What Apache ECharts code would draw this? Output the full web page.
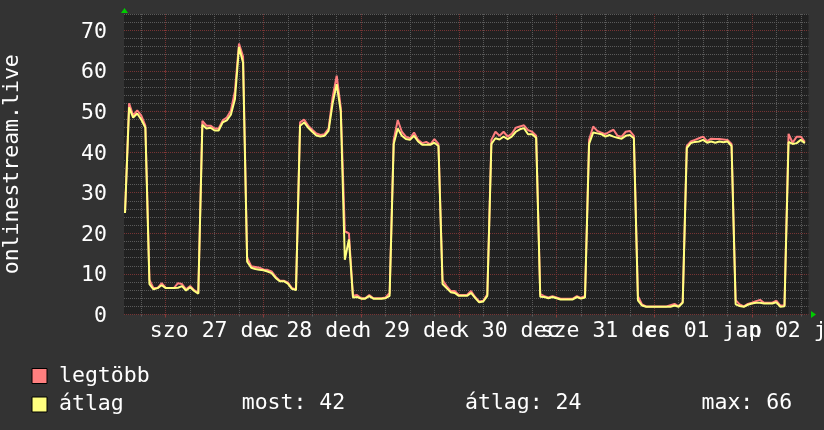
<!DOCTYPE html>
<html><head><meta charset="utf-8">
<script src="https://cdn.jsdelivr.net/npm/echarts@6/dist/echarts.min.js"></script>
<style>html,body{margin:0;padding:0;background:#333333;}#c{width:824px;height:430px;}</style>
</head><body><div id="c"></div>
<script>
// time base: hours relative to 27 Dec 00:00
const hours = [];
for (let h = -10; h <= 157; h++) hours.push(h);

// "legtöbb" (max) values, hourly
const maxValues = [
  25, 52, 49, 50.3, 49, 46.5, 8.5, 6.5, 6.5, 7.7,
  6.6, 6.5, 6.5, 7.7, 7.5, 6.2, 7.0, 6.0, 5.3, 47.7, 46.5, 46.5, 45.8, 45.8, 47.8, 48.5, 50.2, 55, 66.7, 63.5, 14, 11.9, 11.7, 11.5,
  11.1, 11.0, 10.6, 9.3, 8.4, 8.3, 7.9, 6.5, 6.2, 47.3, 48, 46.5, 45.5, 44.6, 44.2, 44.4, 45.8, 53.5, 58.8, 51, 20.5, 20, 4.6, 4.8,
  4.0, 4.0, 4.8, 4.0, 4.0, 4.0, 4.2, 5.3, 43, 47.9, 45, 43.8, 43.4, 44.8, 43, 42.2, 42.5, 41.9, 43.2, 42, 8.5, 7, 5.8, 5.8,
  4.8, 4.8, 4.8, 5.8, 4.3, 3.2, 3.4, 5.0, 43, 45, 44, 45, 43.8, 44.5, 46, 46.3, 46.6, 45.4, 45, 44, 5, 4.5, 4.2, 4.5,
  4.2, 3.9, 3.9, 3.9, 3.9, 4.5, 4.1, 4.6, 43, 46.3, 45.2, 44.8, 44.4, 45, 45.5, 44, 43.8, 45, 45.2, 44, 4.5, 2.5, 2.0, 2.0,
  2.0, 2.0, 2.0, 2.0, 2.3, 2.6, 2.0, 3.1, 41.5, 42.6, 43, 43.4, 43.8, 42.7, 43.3, 43.2, 43.2, 43.1, 43, 42, 3.5, 2.5, 2.0, 2.6,
  2.9, 3.3, 3.6, 2.9, 2.9, 2.9, 3.4, 2.2, 2.2, 44.5, 42.3, 43.8, 43.8, 42.5
];

// "átlag" (average) values, hourly
const avgValues = [
  25, 51, 48.5, 49.5, 48, 46, 7.5, 6.2, 6.5, 7.2,
  6.5, 6.5, 6.5, 6.6, 7.0, 5.9, 6.7, 5.8, 5.1, 46.7, 45.8, 46, 45.3, 45.3, 47.3, 47.8, 49.2, 53, 65.9, 62, 13, 11.5, 11.2, 11,
  10.9, 10.6, 10.2, 9.0, 8.2, 8.2, 7.6, 6.3, 6.0, 46.5, 47.3, 46.0, 45, 44.1, 43.8, 44, 45.2, 52, 56.7, 50, 13.5, 18.5, 4.2, 4.3,
  3.9, 3.9, 4.5, 3.9, 3.9, 3.9, 4.0, 4.6, 42, 45.8, 44, 43.2, 43, 44, 42.6, 41.8, 41.8, 41.8, 42.3, 41.5, 7.5, 6.5, 5.5, 5.3,
  4.6, 4.6, 4.6, 5.3, 4.1, 3.0, 3.2, 4.6, 42, 43.4, 43.1, 43.8, 43.2, 43.8, 45, 45.6, 45.9, 44.4, 44.4, 43.5, 4.4, 4.3, 4.0, 4.3,
  4.0, 3.7, 3.7, 3.7, 3.7, 4.3, 3.9, 4.2, 42, 44.8, 44.6, 44.4, 43.8, 44.2, 43.8, 43.5, 43.3, 44.0, 44.2, 43.4, 3.5, 2.2, 1.9, 1.9,
  1.9, 1.9, 1.9, 1.9, 1.9, 2.2, 1.9, 2.9, 41, 42.2, 42.5, 42.6, 43.0, 42.3, 42.6, 42.3, 42.6, 42.4, 42.6, 41.5, 2.5, 2.1, 1.9, 2.4,
  2.7, 2.9, 2.9, 2.7, 2.7, 2.7, 3.0, 1.9, 2.0, 42.5, 42, 42.2, 43, 42.2
];

const seriesNames = ['legtöbb', 'átlag'];
const seriesColors = ['#ff7f7f', '#ffff7f'];
const dayLabels = ['szo 27 dec', 'v 28 dec', 'h 29 dec', 'k 30 dec', 'sze 31 dec', 'cs 01 jan', 'p 02 jan'];
const labelHours = [12, 36, 60, 84, 108, 132, 156];
const dayHours = [0, 24, 48, 72, 96, 120, 144];
const sixHours = [-6, 6, 12, 18, 30, 36, 42, 54, 60, 66, 78, 84, 90, 102, 108, 114, 126, 132, 138, 150, 156];
const yMajor = [0, 10, 20, 30, 40, 50, 60, 70];
const yMinor = [2, 4, 6, 8, 12, 14, 16, 18, 22, 24, 26, 28, 32, 34, 36, 38, 42, 44, 46, 48, 52, 54, 56, 58, 62, 64, 66, 68, 72, 74];
const statTexts = ['most: 42', 'átlag: 24', 'max: 66'];
const axisTitle = 'onlinestream.live';

const X_MIN = -10.25, X_MAX = 157.9, Y_MIN = 0, Y_MAX = 74;
const FONT = 'DejaVu Sans Mono';
const FS = 21.5;
const GRID_GRAY = '#5a5a5a';
const GRID_RED = '#763434';

const chart = echarts.init(document.getElementById('c'), null, {renderer: 'canvas', devicePixelRatio: 1});

function xAxisBase(extra) {
  return Object.assign({
    type: 'value', min: X_MIN, max: X_MAX, position: 'bottom',
    axisLine: {show: false}, axisTick: {show: false}, axisLabel: {show: false},
    splitLine: {show: false}
  }, extra);
}
function yAxisBase(extra) {
  return Object.assign({
    type: 'value', min: Y_MIN, max: Y_MAX, position: 'left',
    axisLine: {show: false}, axisTick: {show: false}, axisLabel: {show: false},
    splitLine: {show: false}
  }, extra);
}
// labels split over two axes (alternating) so they can overlap like the original
const evenIdx = labelHours.filter((_, i) => i % 2 === 0);
const oddIdx = labelHours.filter((_, i) => i % 2 === 1);
function labelAxis(vals) {
  return xAxisBase({axisTick: {show: false, customValues: vals},
    axisLabel: {show: true, customValues: vals, margin: 6, color: '#ffffff', interval: 0,
      fontFamily: FONT, fontSize: FS, hideOverlap: false, showMinLabel: true, showMaxLabel: true,
      formatter: function (v) { const i = labelHours.indexOf(Math.round(v)); return i >= 0 ? dayLabels[i] : ''; }}});
}
const textFont = FS + 'px "' + FONT + '"';

const option = {
  animation: false,
  backgroundColor: '#333333',
  textStyle: {fontFamily: FONT},
  grid: {left: 124, right: 15.5, top: 14, bottom: 115.5, show: true, backgroundColor: '#212121', borderWidth: 0,
    containLabel: false, outerBoundsMode: 'none'},
  xAxis: [
    xAxisBase({axisTick: {show: true, length: 2, customValues: sixHours, lineStyle: {color: '#5a5a5a'}},
      splitLine: {show: true, lineStyle: {color: GRID_GRAY, width: 1, type: [1, 1]}}}),
    xAxisBase({axisTick: {show: true, length: 3, customValues: dayHours, lineStyle: {color: '#8a3a3a'}},
      splitLine: {show: true, lineStyle: {color: GRID_RED, width: 1, type: [1, 1]}}}),
    labelAxis(evenIdx),
    labelAxis(oddIdx)
  ],
  yAxis: [
    yAxisBase({axisTick: {show: false, customValues: yMinor},
      splitLine: {show: true, lineStyle: {color: GRID_GRAY, width: 1, type: [1, 1]}}}),
    yAxisBase({axisTick: {show: true, length: 2, customValues: yMajor, lineStyle: {color: '#8a3a3a'}},
      axisLabel: {show: true, customValues: yMajor, margin: 17, color: '#ffffff', fontFamily: FONT, fontSize: FS,
        formatter: function (v) { return '{t|' + v + '}'; },
        rich: {t: {color: '#ffffff', fontFamily: FONT, fontSize: FS, padding: [4, 0, 0, 0]}}},
      splitLine: {show: true, lineStyle: {color: GRID_RED, width: 1, type: [1, 1]}},
      name: axisTitle, nameLocation: 'middle', nameGap: 101,
      nameTextStyle: {color: '#ffffff', fontFamily: FONT, fontSize: FS}})
  ],
  legend: [0, 1].map(i => ({
    orient: 'vertical', left: 31.5, top: i === 0 ? 365 : 393.5, padding: 0,
    itemWidth: 15, itemHeight: 15, selectedMode: false, icon: 'rect',
    itemStyle: {borderColor: '#000000', borderWidth: 1},
    textStyle: {color: '#ffffff', fontFamily: FONT, fontSize: FS, padding: [0, 0, 0, 7]},
    data: [seriesNames[i]]
  })),
  graphic: [
    {type: 'text', left: 241.7, top: 392, style: {text: statTexts[0], fill: '#ffffff', font: textFont}},
    {type: 'text', left: 465, top: 392, style: {text: statTexts[1], fill: '#ffffff', font: textFont}},
    {type: 'text', left: 701.5, top: 392, style: {text: statTexts[2], fill: '#ffffff', font: textFont}}
  ],
  series: [
    {
      name: seriesNames[0], type: 'line', xAxisIndex: 0, yAxisIndex: 0,
      data: hours.map((h, i) => [h, maxValues[i]]),
      showSymbol: false, symbol: 'none', color: seriesColors[0],
      lineStyle: {width: 2, color: seriesColors[0]}, silent: true, z: 3
    },
    {
      name: seriesNames[1], type: 'line', xAxisIndex: 0, yAxisIndex: 0,
      data: hours.map((h, i) => [h, avgValues[i]]),
      showSymbol: false, symbol: 'none', color: seriesColors[1],
      lineStyle: {width: 2, color: seriesColors[1]}, silent: true, z: 4,
      markPoint: {
        silent: true, symbol: 'triangle', label: {show: false},
        itemStyle: {color: '#00cc00'},
        data: [
          {coord: [X_MIN, Y_MAX], symbolSize: [7, 5], symbolOffset: [0.5, -3.5]},
          {coord: [X_MAX, Y_MIN], symbolSize: [7, 5], symbolRotate: -90, symbolOffset: [5, 0]}
        ]
      }
    }
  ]
};
chart.setOption(option);
</script>
</body></html>
